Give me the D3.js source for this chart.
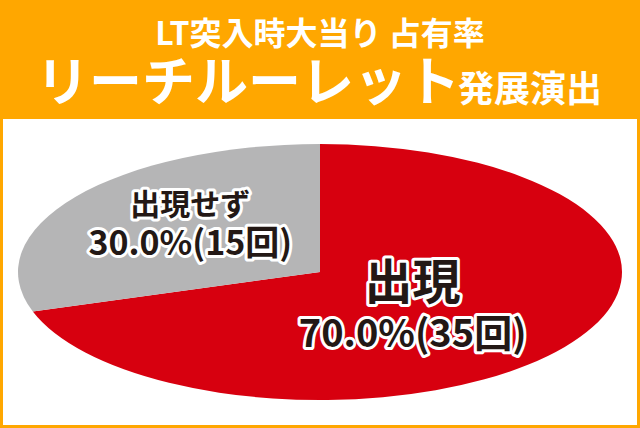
<!DOCTYPE html>
<html>
<head>
<meta charset="utf-8">
<script src="https://cdn.jsdelivr.net/npm/d3@7"></script>
<style>
  html, body { margin: 0; padding: 0; background: #fff; }
  svg { display: block; }
  text { font-family: "Noto Sans CJK JP", "Noto Sans", sans-serif; font-weight: 700; }
</style>
</head>
<body>
<script>
// ---- data ----
const titleLine1 = "LT突入時大当り 占有率";
const titleLine2 = "リーチルーレット";
const titleLine2Suffix = "発展演出";
const categories = ["出現", "出現せず"];
const counts = [35, 15];
const sliceColors = ["#D7000F", "#B5B5B6"];

const W = 640, H = 428;
const svg = d3.select("body").append("svg").attr("width", W).attr("height", H);

// frame
svg.append("rect").attr("x", 0).attr("y", 0).attr("width", W).attr("height", H).attr("fill", "#FFA700");
svg.append("rect").attr("x", 3).attr("y", 119).attr("width", W - 6).attr("height", H - 119 - 3).attr("fill", "#fff");

// titles
svg.append("text").attr("x", 320).attr("y", 45).attr("text-anchor", "middle")
  .attr("font-size", 32).attr("fill", "#fff").text(titleLine1);
svg.append("text").attr("x", 36).attr("y", 101).attr("text-anchor", "start")
  .attr("font-size", 53).attr("fill", "#fff").attr("font-weight", 900).text(titleLine2);
svg.append("text").attr("x", 458).attr("y", 102).attr("text-anchor", "start")
  .attr("font-size", 36).attr("fill", "#fff").text(titleLine2Suffix);

// pie drawn on a circle of radius ry, then stretched horizontally into the ellipse
const cx = 320, cy = 272, rx = 302, ry = 128;
const total = d3.sum(counts);
const rows = categories.map((c, i) => ({ cat: c, count: counts[i], color: sliceColors[i] }));
const pie = d3.pie().sort(null).value(d => d.count);
const arcs = pie(rows);
const arc = d3.arc().innerRadius(0).outerRadius(ry);

const g = svg.append("g").attr("transform", `translate(${cx},${cy}) scale(${rx / ry},1)`);
g.selectAll("path").data(arcs).join("path")
  .attr("d", arc).attr("fill", d => d.data.color);

// labels
const labelFrac = [0.42, 0.58];
const labelCfg = [
  { nameSize: 48, valSize: 38, gap: 48, dx: -10, dy: 5.5 },
  { nameSize: 30, valSize: 34, gap: 40, dx: 12, dy: -7 }
];
const fmt = d3.format(".1f");
const labels = svg.append("g");
arcs.forEach((a, i) => {
  const mid = (a.startAngle + a.endAngle) / 2;
  const cfg = labelCfg[i];
  const px = cx + Math.sin(mid) * rx * labelFrac[i] + cfg.dx;
  const py = cy - Math.cos(mid) * ry * labelFrac[i] + cfg.dy;
  const pct = fmt(a.data.count / total * 100) + "%(" + a.data.count + "回)";
  const lines = [
    { t: a.data.cat, s: cfg.nameSize, y: py - cfg.gap / 2 + 14 },
    { t: pct, s: cfg.valSize, y: py + cfg.gap / 2 + 14 }
  ];
  lines.forEach(l => {
    labels.append("text")
      .attr("x", px).attr("y", l.y).attr("text-anchor", "middle")
      .attr("font-size", l.s).attr("fill", "#231815")
      .attr("stroke", "#fff").attr("stroke-width", 6).attr("stroke-linejoin", "round")
      .attr("paint-order", "stroke").text(l.t);
  });
});
</script>
</body>
</html>
